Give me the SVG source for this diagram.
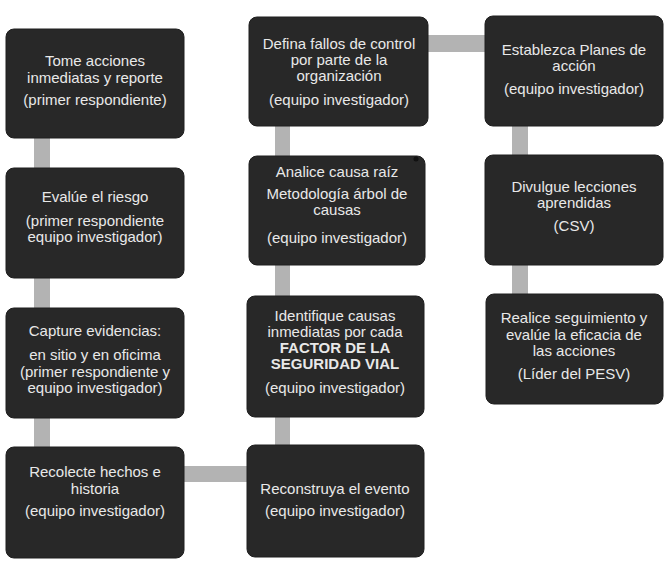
<svg xmlns="http://www.w3.org/2000/svg" width="672" height="562" viewBox="0 0 672 562">
<defs>
<style>
.box{fill:#282828;stroke:#1e1e1e;stroke-width:1}
.conn{fill:#b3b3b3}
text{font-family:"Liberation Sans",Arial,sans-serif;font-size:15px;fill:#e8e8e8;text-anchor:middle}
.b{font-weight:bold}
</style>
</defs>
<rect width="672" height="562" fill="#ffffff"/>
<g id="connectors">
<rect class="conn" x="34" y="137" width="16" height="32"/>
<rect class="conn" x="34" y="277" width="16" height="32"/>
<rect class="conn" x="34" y="417" width="16" height="31"/>
<rect class="conn" x="183" y="466" width="65" height="16"/>
<rect class="conn" x="275" y="416" width="15" height="30"/>
<rect class="conn" x="275" y="264" width="15" height="33"/>
<rect class="conn" x="275" y="125" width="15" height="32"/>
<rect class="conn" x="427" y="35" width="59" height="17"/>
<rect class="conn" x="512" y="125" width="16" height="31"/>
<rect class="conn" x="512" y="264" width="16" height="31"/>
</g>
<g id="n1">
<rect class="box" x="6" y="29" width="178" height="109" rx="8"/>
<text x="95" y="66">Tome acciones</text>
<text x="95" y="83">inmediatas y reporte</text>
<text x="95" y="105">(primer respondiente)</text>
</g>
<g id="n2">
<rect class="box" x="6" y="168" width="178" height="110" rx="8"/>
<text x="95" y="202">Evalúe el riesgo</text>
<text x="95" y="226">(primer respondiente</text>
<text x="95" y="242">equipo investigador)</text>
</g>
<g id="n3">
<rect class="box" x="6" y="308" width="178" height="110" rx="8"/>
<text x="95" y="336">Capture evidencias:</text>
<text x="95" y="360">en sitio y en oficima</text>
<text x="95" y="377">(primer respondiente y</text>
<text x="95" y="393">equipo investigador)</text>
</g>
<g id="n4">
<rect class="box" x="6" y="447" width="178" height="111" rx="8"/>
<text x="95" y="477">Recolecte hechos e</text>
<text x="95" y="494">historia</text>
<text x="95" y="516">(equipo investigador)</text>
</g>
<g id="n5">
<rect class="box" x="247" y="445" width="177" height="112" rx="8"/>
<text x="335" y="494">Reconstruya el evento</text>
<text x="335" y="516">(equipo investigador)</text>
</g>
<g id="n6">
<rect class="box" x="247" y="296" width="177" height="121" rx="8"/>
<text x="335" y="321">Identifique causas</text>
<text x="335" y="337">inmediatas por cada</text>
<text x="335" y="353" class="b">FACTOR DE LA</text>
<text x="335" y="369" class="b">SEGURIDAD VIAL</text>
<text x="335" y="393">(equipo investigador)</text>
</g>
<g id="n7">
<rect class="box" x="249" y="156" width="176" height="109" rx="8"/>
<circle cx="416" cy="159" r="2.5" fill="#111"/>
<text x="337" y="177">Analice causa raíz</text>
<text x="337" y="199">Metodología árbol de</text>
<text x="337" y="215">causas</text>
<text x="337" y="243">(equipo investigador)</text>
</g>
<g id="n8">
<rect class="box" x="249" y="17" width="179" height="109" rx="8"/>
<text x="339" y="49">Defina fallos de control</text>
<text x="339" y="65">por parte de la</text>
<text x="339" y="81">organización</text>
<text x="339" y="105">(equipo investigador)</text>
</g>
<g id="n9">
<rect class="box" x="485" y="16" width="178" height="110" rx="8"/>
<text x="574" y="55">Establezca Planes de</text>
<text x="574" y="71">acción</text>
<text x="574" y="94">(equipo investigador)</text>
</g>
<g id="n10">
<rect class="box" x="485" y="155" width="178" height="110" rx="8"/>
<text x="574" y="192">Divulgue lecciones</text>
<text x="574" y="208">aprendidas</text>
<text x="574" y="231">(CSV)</text>
</g>
<g id="n11">
<rect class="box" x="486" y="294" width="177" height="110" rx="8"/>
<text x="574" y="323">Realice seguimiento y</text>
<text x="574" y="340">evalúe la eficacia de</text>
<text x="574" y="356">las acciones</text>
<text x="574" y="379">(Líder del PESV)</text>
</g>
</svg>
